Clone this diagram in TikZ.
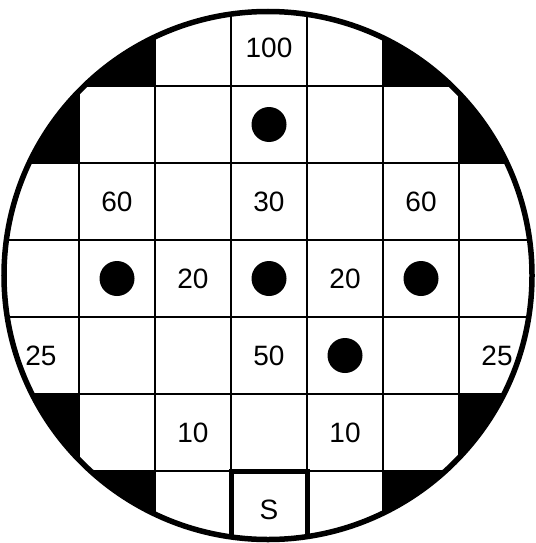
\documentclass[tikz,border=0pt]{standalone}
\usepackage{fontspec}
\setmainfont{Liberation Sans}

\begin{document}
\begin{tikzpicture}[
    x=1pt, y=-1pt,
    cell/.style={draw, fill=white, line width=2.6pt},
    sbox/.style={draw, line width=5pt},
    lbl/.style={font=\fontsize{28}{32}\selectfont, inner sep=0pt},
    dot/.style={circle, fill, inner sep=0pt, minimum size=35pt},
]
    \useasboundingbox (0,0) rectangle (535,543);
    \coordinate (c) at (268,275.5);

    % Wafer and dies
    \fill (c) circle (264);
    \begin{scope}
        \clip (c) circle (264);
        \begin{scope}[shift={(3,9)}, x=76pt, y=-77pt]
            \foreach \r/\ca/\cb in {0/2/4, 1/1/5, 2/0/6, 3/0/6, 4/0/6, 5/1/5, 6/2/4}
                \foreach \col in {\ca,...,\cb}
                    \draw[cell] (\col,\r) rectangle ++(1,1);
            \draw[sbox] (3,6) rectangle ++(1,1);

            % Labels
            \foreach \col/\r/\t [count=\i] in {3/0/100, 1/2/60, 3/2/30, 5/2/60,
                    2/3/20, 4/3/20, 0/4/25, 3/4/50, 6/4/25, 2/5/10, 4/5/10, 3/6/S}
                \node[lbl] (lbl\i) at (\col+.5,\r+.5) {\t};

            % Test dots
            \foreach \col/\r [count=\i] in {3/1, 1/3, 3/3, 5/3, 4/4}
                \node[dot] (dot\i) at (\col+.5,\r+.5) {};
        \end{scope}
    \end{scope}
    \draw[line width=5.5pt] (c) circle (264);
\end{tikzpicture}
\end{document}
